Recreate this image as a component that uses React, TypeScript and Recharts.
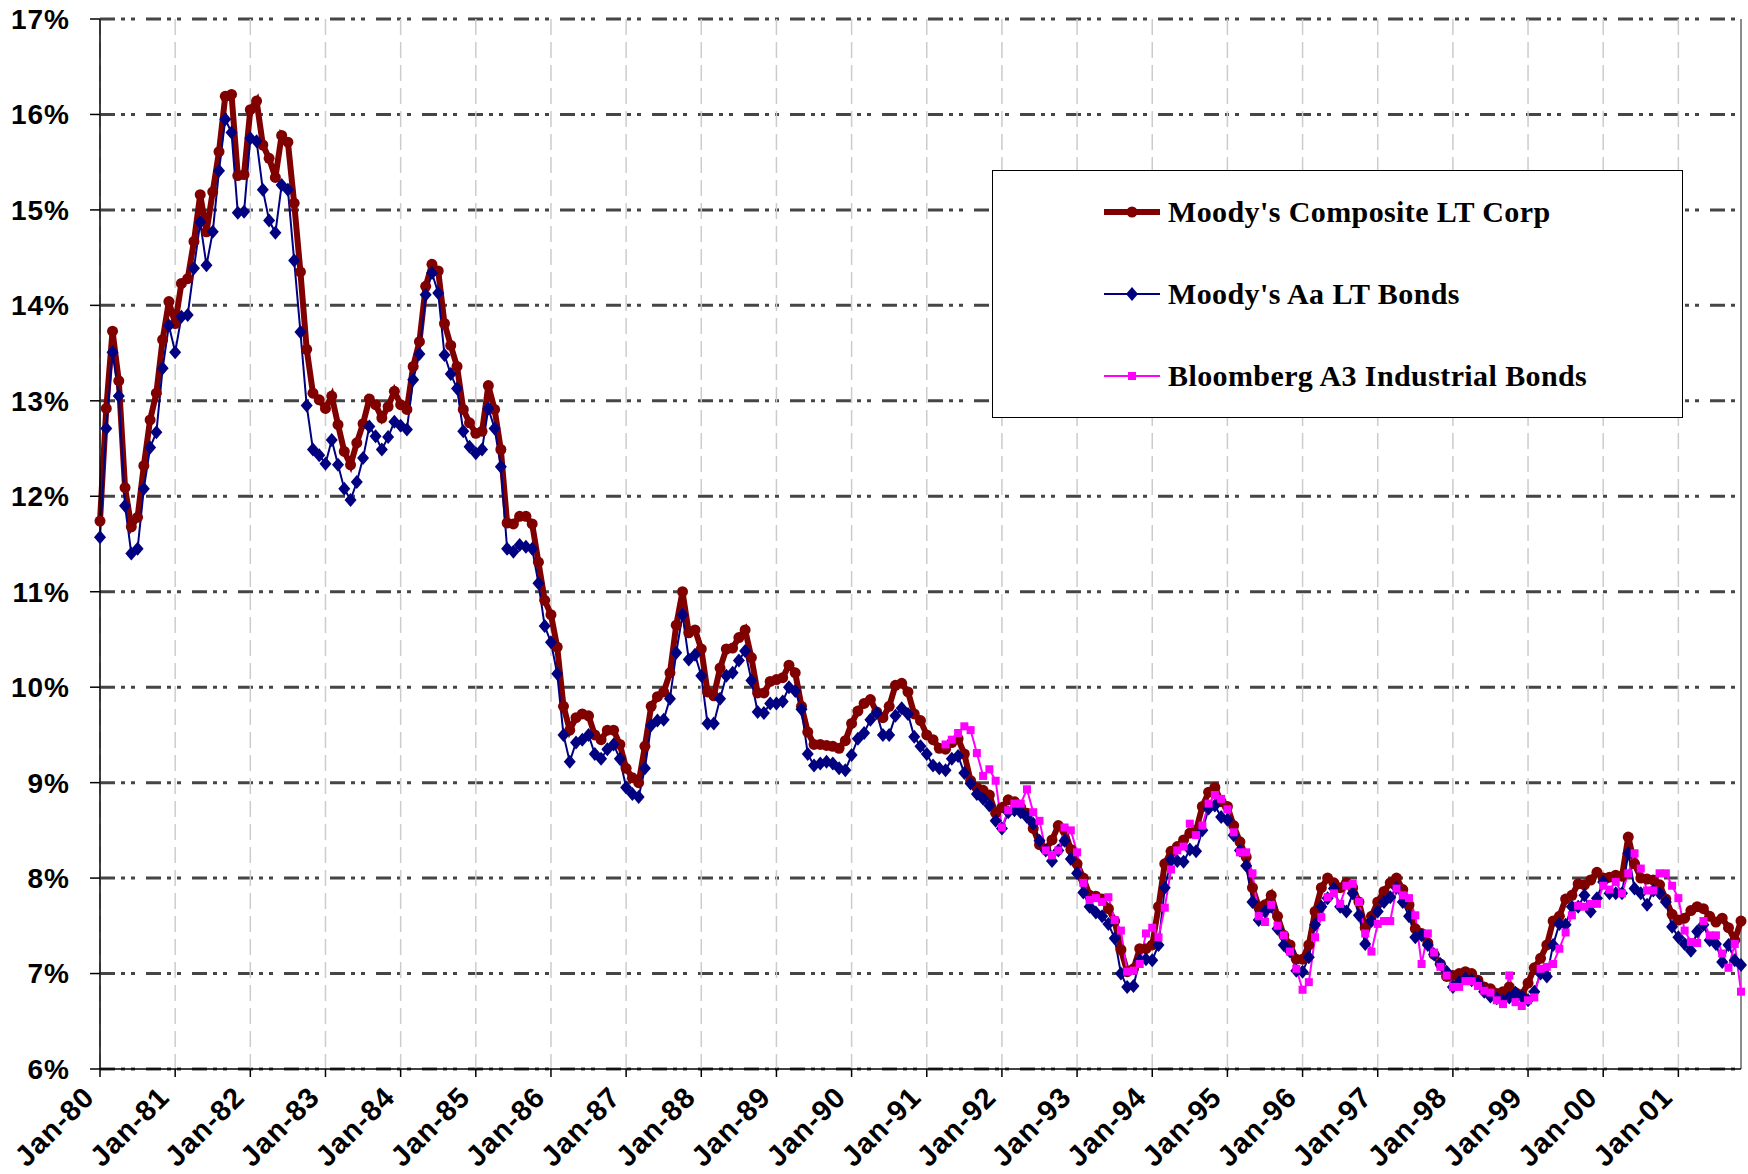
import React from "react";
import {
  LineChart,
  Line,
  XAxis,
  YAxis,
  CartesianGrid,
  Legend,
  ReferenceLine,
} from "recharts";

// tick labels
const yearLabels = [
  "Jan-80", "Jan-81", "Jan-82", "Jan-83", "Jan-84", "Jan-85", "Jan-86",
  "Jan-87", "Jan-88", "Jan-89", "Jan-90", "Jan-91", "Jan-92", "Jan-93",
  "Jan-94", "Jan-95", "Jan-96", "Jan-97", "Jan-98", "Jan-99", "Jan-00", "Jan-01",
];
const yTicks = [6, 7, 8, 9, 10, 11, 12, 13, 14, 15, 16, 17];

// Moody's Composite LT Corp, monthly from Jan-80 (one row per year)
const composite = [
  11.74, 12.92, 13.73, 13.21, 12.09, 11.68, 11.78, 12.32, 12.8, 13.08, 13.64, 14.04,
  13.81, 14.23, 14.28, 14.67, 15.16, 14.77, 15.19, 15.61, 16.19, 16.21, 15.36, 15.37,
  16.05, 16.14, 15.68, 15.54, 15.34, 15.78, 15.71, 15.07, 14.35, 13.54, 13.08, 13.01,
  12.92, 13.05, 12.75, 12.47, 12.33, 12.56, 12.76, 13.02, 12.96, 12.82, 12.94, 13.1,
  12.96, 12.91, 13.36, 13.62, 14.2, 14.43, 14.36, 13.81, 13.58, 13.36, 12.91, 12.77,
  12.66, 12.68, 13.16, 12.91, 12.49, 11.72, 11.71, 11.79, 11.79, 11.71, 11.31, 10.91,
  10.76, 10.42, 9.8, 9.55, 9.68, 9.72, 9.7, 9.5, 9.45, 9.55, 9.55, 9.4,
  9.15, 9.05, 9.0, 9.38, 9.8, 9.9, 9.95, 10.15, 10.65, 11.0, 10.57, 10.6,
  10.4, 9.95, 9.91, 10.2, 10.4, 10.41, 10.52, 10.6, 10.31, 9.94, 9.94, 10.06,
  10.08, 10.1, 10.23, 10.15, 9.8, 9.53, 9.4, 9.4, 9.39, 9.38, 9.36, 9.44,
  9.62, 9.75, 9.83, 9.87, 9.74, 9.68, 9.8, 10.02, 10.04, 9.95, 9.72, 9.65,
  9.5, 9.45, 9.36, 9.35, 9.42, 9.46, 9.3, 9.02, 8.95, 8.92, 8.87, 8.68,
  8.74, 8.82, 8.8, 8.74, 8.68, 8.52, 8.35, 8.3, 8.4, 8.55, 8.5, 8.3,
  8.15, 8.0, 7.82, 7.81, 7.78, 7.68, 7.55, 7.25, 7.02, 7.05, 7.26, 7.26,
  7.3, 7.7, 8.15, 8.28, 8.33, 8.4, 8.47, 8.5, 8.75, 8.9, 8.95, 8.8,
  8.75, 8.55, 8.38, 8.22, 7.9, 7.7, 7.72, 7.82, 7.6, 7.4, 7.3, 7.15,
  7.15, 7.3, 7.65, 7.9, 8.0, 7.95, 7.9, 7.95, 7.9, 7.75, 7.48, 7.6,
  7.75, 7.86, 7.95, 8.0, 7.88, 7.72, 7.47, 7.42, 7.32, 7.2, 7.1, 6.97,
  6.98, 7.0, 7.02, 7.0, 6.93, 6.86, 6.84, 6.79, 6.81, 6.86, 6.8, 6.78,
  6.9, 7.06, 7.16, 7.3, 7.55, 7.6, 7.78, 7.82, 7.94, 7.93, 7.98, 8.06,
  8.0, 8.01, 8.03, 8.02, 8.43, 8.15, 8.0, 7.99, 7.98, 7.93, 7.78, 7.62,
  7.56, 7.58, 7.66, 7.7, 7.68, 7.6, 7.54, 7.58, 7.48, 7.35, 7.55,
];

// Moody's Aa LT Bonds
const aaBonds = [
  11.57, 12.71, 13.51, 13.05, 11.9, 11.4, 11.45, 12.08, 12.51, 12.67, 13.34, 13.79,
  13.51, 13.88, 13.9, 14.39, 14.87, 14.42, 14.77, 15.41, 15.95, 15.81, 14.97, 14.98,
  15.75, 15.72, 15.21, 14.89, 14.76, 15.26, 15.21, 14.47, 13.72, 12.95, 12.49, 12.43,
  12.34, 12.59, 12.33, 12.08, 11.96, 12.15, 12.4, 12.73, 12.63, 12.49, 12.62, 12.78,
  12.74, 12.7, 13.22, 13.49, 14.11, 14.34, 14.13, 13.48, 13.28, 13.13, 12.68, 12.52,
  12.45, 12.49, 12.92, 12.71, 12.31, 11.45, 11.42, 11.49, 11.47, 11.45, 11.09, 10.64,
  10.47, 10.14, 9.5, 9.22, 9.42, 9.45, 9.5, 9.3, 9.25, 9.35, 9.4, 9.25,
  8.95, 8.88, 8.85, 9.15, 9.6, 9.65, 9.66, 9.88, 10.36, 10.76, 10.29, 10.34,
  10.12, 9.62, 9.62, 9.88, 10.12, 10.15, 10.28, 10.38, 10.07, 9.74, 9.73, 9.83,
  9.83, 9.85, 10.0, 9.96, 9.77, 9.3, 9.18, 9.2, 9.22, 9.2, 9.15, 9.13,
  9.29, 9.46, 9.52, 9.66, 9.73, 9.5, 9.5, 9.7, 9.78, 9.72, 9.48, 9.38,
  9.3, 9.18, 9.15, 9.13, 9.25, 9.28, 9.1, 8.99, 8.88, 8.83, 8.76, 8.6,
  8.52, 8.69, 8.71, 8.69, 8.64, 8.57, 8.39, 8.29, 8.18, 8.29, 8.39, 8.2,
  8.05, 7.85, 7.7, 7.64, 7.6, 7.52, 7.37, 7.0, 6.86, 6.87, 7.14, 7.15,
  7.14, 7.3, 7.9, 8.19, 8.18, 8.17, 8.3, 8.28, 8.5, 8.73, 8.76, 8.64,
  8.61, 8.45, 8.29, 8.13, 7.75, 7.56, 7.65, 7.7, 7.47, 7.3, 7.23, 7.03,
  7.02, 7.17, 7.51, 7.7, 7.79, 7.89, 7.7, 7.65, 7.84, 7.61, 7.31, 7.55,
  7.65, 7.75, 7.8, 7.9, 7.75, 7.6, 7.38, 7.4, 7.3, 7.2, 7.1, 7.02,
  6.86, 6.91, 6.95, 6.93, 6.9, 6.81, 6.76, 6.74, 6.72, 6.75, 6.8, 6.76,
  6.72, 6.81, 7.0, 6.97, 7.3, 7.52, 7.51, 7.7, 7.7, 7.82, 7.65, 7.79,
  7.96, 7.84, 7.84, 7.84, 8.26, 7.89, 7.84, 7.72, 7.87, 7.84, 7.75, 7.49,
  7.38, 7.31, 7.24, 7.44, 7.51, 7.35, 7.31, 7.12, 7.3, 7.14, 7.09,
];

// Bloomberg A3 Industrial Bonds, starts Apr-91
const bloombergStart = 135;
const bloomberg = [
  9.4, 9.45, 9.52, 9.59, 9.55, 9.31, 9.07, 9.14, 9.02,
  8.53, 8.71, 8.78, 8.78, 8.93, 8.69, 8.6, 8.29, 8.24, 8.29, 8.53, 8.5,
  8.27, 7.95, 7.77, 7.79, 7.75, 7.8, 7.56, 7.45, 7.02, 7.03, 7.1, 7.42,
  7.48, 7.38, 7.69, 8.09, 8.29, 8.33, 8.57, 8.45, 8.55, 8.78, 8.87, 8.83,
  8.72, 8.48, 8.27, 8.27, 8.05, 7.6, 7.54, 7.72, 7.5, 7.4, 7.23, 7.05,
  6.83, 6.91, 7.38, 7.59, 7.8, 7.84, 7.73, 7.92, 7.94, 7.75, 7.42, 7.23,
  7.52, 7.55, 7.55, 7.89, 7.82, 7.79, 7.61, 7.1, 7.42, 7.22, 7.07, 6.98,
  6.86, 6.86, 6.92, 6.92, 6.87, 6.82, 6.8, 6.72, 6.68, 6.98, 6.7, 6.66,
  6.72, 6.75, 7.05, 7.07, 7.1, 7.26, 7.43, 7.61, 7.71, 7.7, 7.73, 7.73,
  7.92, 7.88, 7.96, 7.84, 8.05, 8.26, 8.1, 7.87, 7.87, 8.05, 8.05, 7.92,
  7.79, 7.45, 7.33, 7.32, 7.55, 7.4, 7.4, 7.21, 7.06, 7.31, 6.81,
];

const data = composite.map((v, i) => ({
  i,
  composite: v,
  aa: aaBonds[i],
  bloomberg: i >= bloombergStart ? bloomberg[i - bloombergStart] : null,
}));

const lastIndex = composite.length - 1;
const yearTicks = yearLabels.map((_, k) => k * 12);

const RED = "#800000";
const NAVY = "#000080";
const PINK = "#FF00FF";
const axisFont = '"Liberation Sans", Arial, sans-serif';
const legendFont = '"Liberation Serif", "Times New Roman", serif';

const circleDot = (p: any) => {
  if (p.value == null || p.cy == null) return <g key={`c${p.index}`} />;
  return <circle key={`c${p.index}`} cx={p.cx} cy={p.cy} r={5.5} fill={RED} />;
};

const diamondDot = (p: any) => {
  if (p.value == null || p.cy == null) return <g key={`d${p.index}`} />;
  const { cx, cy } = p;
  return (
    <path
      key={`d${p.index}`}
      d={`M${cx} ${cy - 7}L${cx + 6} ${cy}L${cx} ${cy + 7}L${cx - 6} ${cy}Z`}
      fill={NAVY}
    />
  );
};

const squareDot = (p: any) => {
  if (p.value == null || p.cy == null) return <g key={`s${p.index}`} />;
  return <rect key={`s${p.index}`} x={p.cx - 4} y={p.cy - 4} width={8} height={8} fill={PINK} />;
};

function MonthTick({ x, y, payload }: any) {
  const ax = x - 4;
  const ay = y + 20;
  return (
    <text
      x={ax}
      y={ay}
      transform={`rotate(-45 ${ax} ${ay})`}
      textAnchor="end"
      fontSize={29}
      fontWeight="bold"
      fontFamily={axisFont}
      letterSpacing={1}
      fill="#000"
    >
      {yearLabels[Math.round(payload.value / 12)]}
    </text>
  );
}

const legendItems = [
  { name: "Moody's Composite LT Corp", color: RED, width: 6, marker: "circle" },
  { name: "Moody's Aa LT Bonds", color: NAVY, width: 2, marker: "diamond" },
  { name: "Bloomberg A3 Industrial Bonds", color: PINK, width: 2, marker: "square" },
];

function LegendBox() {
  return (
    <div
      style={{
        width: 691,
        height: 248,
        boxSizing: "border-box",
        border: "1.5px solid #000",
        background: "#fff",
        position: "relative",
      }}
    >
      {legendItems.map((it, k) => (
        <div
          key={it.name}
          style={{
            position: "absolute",
            left: 111,
            top: 41 + k * 82 - 20,
            height: 40,
            display: "flex",
            alignItems: "center",
          }}
        >
          <svg width={56} height={24}>
            <line x1={0} y1={12} x2={56} y2={12} stroke={it.color} strokeWidth={it.width} />
            {it.marker === "circle" && <circle cx={28} cy={12} r={5.5} fill={it.color} />}
            {it.marker === "diamond" && <path d="M28 5L34 12L28 19L22 12Z" fill={it.color} />}
            {it.marker === "square" && <rect x={24} y={8} width={8} height={8} fill={it.color} />}
          </svg>
          <span
            style={{
              marginLeft: 8,
              fontFamily: legendFont,
              fontWeight: "bold",
              fontSize: 30,
              letterSpacing: 0.4,
              color: "#000",
              whiteSpace: "nowrap",
            }}
          >
            {it.name}
          </span>
        </div>
      ))}
    </div>
  );
}

export default function App() {
  return (
    <div style={{ width: 1748, height: 1174, background: "#fff" }}>
      <style>{"body{margin:0}"}</style>
      <LineChart
        width={1748}
        height={1174}
        data={data}
        margin={{ top: 19, right: 7, left: 0, bottom: 0 }}
      >
        <CartesianGrid
          vertical={false}
          stroke="#454545"
          strokeWidth={3}
          strokeDasharray="15 6 4 6 4 11"
        />
        <CartesianGrid
          horizontal={false}
          stroke="#cccccc"
          strokeWidth={1.5}
          strokeDasharray="16 7"
        />
        <XAxis
          type="number"
          dataKey="i"
          domain={[0, lastIndex]}
          ticks={yearTicks}
          interval={0}
          height={105}
          tickSize={8}
          tick={<MonthTick />}
          axisLine={{ stroke: "#000", strokeWidth: 1.5 }}
          tickLine={{ stroke: "#000", strokeWidth: 1.5 }}
        />
        <YAxis
          domain={[6, 17]}
          ticks={yTicks}
          interval={0}
          width={100}
          tickSize={10}
          tickMargin={20}
          tickFormatter={(v) => `${v}%`}
          tick={{
            fill: "#000",
            fontSize: 28,
            fontWeight: "bold",
            fontFamily: axisFont,
            letterSpacing: 1,
          }}
          axisLine={{ stroke: "#000", strokeWidth: 1.5 }}
          tickLine={{ stroke: "#000", strokeWidth: 1.5 }}
        />
        <ReferenceLine x={lastIndex} stroke="#8c8c8c" strokeWidth={2} />
        <Legend
          layout="vertical"
          align="center"
          verticalAlign="middle"
          content={() => <LegendBox />}
          wrapperStyle={{ left: 992, top: 170, width: 691, height: 248 }}
        />
        <Line
          type="linear"
          dataKey="composite"
          name="Moody's Composite LT Corp"
          stroke={RED}
          strokeWidth={6}
          dot={circleDot}
          activeDot={false}
          isAnimationActive={false}
        />
        <Line
          type="linear"
          dataKey="aa"
          name="Moody's Aa LT Bonds"
          stroke={NAVY}
          strokeWidth={2}
          dot={diamondDot}
          activeDot={false}
          isAnimationActive={false}
        />
        <Line
          type="linear"
          dataKey="bloomberg"
          name="Bloomberg A3 Industrial Bonds"
          stroke={PINK}
          strokeWidth={2}
          dot={squareDot}
          activeDot={false}
          isAnimationActive={false}
        />
      </LineChart>
    </div>
  );
}
